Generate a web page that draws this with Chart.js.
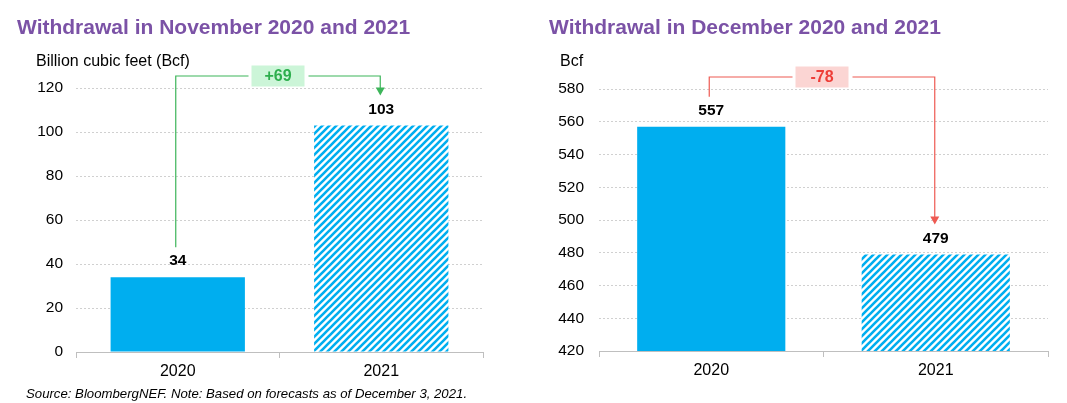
<!DOCTYPE html>
<html lang="en">
<head>
<meta charset="UTF-8">
<title>Withdrawal</title>
<script src="https://cdn.jsdelivr.net/npm/chart.js@4.4.0/dist/chart.umd.min.js"></script>
<style>
    body { margin: 0; background: #fff; font-family: "Liberation Sans", Arial, sans-serif; }
    #wrap { position: relative; width: 1067px; height: 403px; overflow: hidden; }
    canvas { position: absolute; top: 0; }
    .txt { position: absolute; line-height: 1; white-space: nowrap; z-index: 2; }
    .title { font-size: 21px; font-weight: bold; color: #7B52A6; top: 16px; }
    .unit { font-size: 16px; color: #000; top: 53px; }
</style>
</head>
<body>
<div id="wrap">
    <div class="txt title" style="left:17px">Withdrawal in November 2020 and 2021</div>
    <div class="txt title" style="left:549px">Withdrawal in December 2020 and 2021</div>
    <div class="txt unit" style="left:36px">Billion cubic feet (Bcf)</div>
    <div class="txt unit" style="left:560px">Bcf</div>
    <div class="txt" style="left:26px;top:387px;font-size:13.2px;font-style:italic">Source: BloombergNEF. Note: Based on forecasts as of December 3, 2021.</div>
    <canvas id="nov" width="533" height="403" style="left:0"></canvas>
    <canvas id="dec" width="534" height="403" style="left:533px"></canvas>
</div>

<script>
    // data
    const years = ['2020', '2021'];
    const novValues = [34, 103];
    const decValues = [557, 479];
    const novDelta = '+69';
    const decDelta = '-78';
    const novTicks = { min: 0, max: 120, step: 20 };
    const decTicks = { min: 420, max: 580, step: 20 };

    const blue = '#00AEEF';
    const font = '"Liberation Sans", Arial, sans-serif';

    function hatch() {
        const c = document.createElement('canvas');
        c.width = 7; c.height = 7;
        const g = c.getContext('2d');
        g.fillStyle = '#fff';
        g.fillRect(0, 0, 7, 7);
        g.strokeStyle = blue;
        g.lineWidth = 2.6;
        g.beginPath();
        g.moveTo(-1, 8); g.lineTo(8, -1);
        g.moveTo(-1, 1); g.lineTo(1, -1);
        g.moveTo(6, 8); g.lineTo(8, 6);
        g.stroke();
        return g.createPattern(c, 'repeat');
    }

    // bar value labels + the delta connector
    const extras = {
        id: 'extras',
        afterDatasetsDraw(chart, args, opts) {
            const ctx = chart.ctx;
            const bars = chart.getDatasetMeta(0).data;
            const vals = chart.data.datasets[0].data;
            ctx.save();
            ctx.fillStyle = '#000';
            ctx.font = 'bold 15.5px ' + font;
            ctx.textAlign = 'center';
            ctx.textBaseline = 'middle';
            bars.forEach((b, i) => ctx.fillText(vals[i], b.x, b.y - 16));

            const x0 = bars[0].x - 2, x1 = bars[1].x - 1;
            const yTop = chart.chartArea.top - 12;
            const yStart = bars[0].y - 30;
            const yTip = bars[1].y - 30;
            const mid = (x0 + x1) / 2;
            const bw = 53, bh = 21;

            ctx.strokeStyle = opts.line;
            ctx.lineWidth = 1.2;
            ctx.beginPath();
            ctx.moveTo(x0, yStart);
            ctx.lineTo(x0, yTop);
            ctx.lineTo(mid - bw / 2 - 3, yTop);
            ctx.moveTo(mid + bw / 2 + 4, yTop);
            ctx.lineTo(x1, yTop);
            ctx.lineTo(x1, yTip - 7);
            ctx.stroke();
            ctx.fillStyle = opts.line;
            ctx.beginPath();
            ctx.moveTo(x1 - 4.5, yTip - 8);
            ctx.lineTo(x1 + 4.5, yTip - 8);
            ctx.lineTo(x1, yTip);
            ctx.closePath();
            ctx.fill();

            ctx.fillStyle = opts.box;
            ctx.fillRect(mid - bw / 2, yTop - bh / 2, bw, bh);
            ctx.fillStyle = opts.text;
            ctx.font = 'bold 16px ' + font;
            ctx.fillText(opts.label, mid, yTop + 1);
            ctx.restore();
        }
    };

    function makeChart(id, values, ticks, yWidth, pad, delta) {
        return new Chart(document.getElementById(id), {
            type: 'bar',
            data: {
                labels: years,
                datasets: [{
                    data: values,
                    backgroundColor: [blue, hatch()],
                    borderWidth: 0,
                    barPercentage: 0.66,
                    categoryPercentage: 1
                }]
            },
            options: {
                responsive: false,
                animation: false,
                layout: { padding: pad },
                plugins: {
                    legend: { display: false },
                    tooltip: { enabled: false },
                    extras: delta
                },
                scales: {
                    x: {
                        grid: { offset: true, drawOnChartArea: false, drawTicks: true, tickLength: 6, color: '#bfbfbf' },
                        border: { display: true, color: '#bfbfbf', width: 1 },
                        ticks: { color: '#000', font: { family: font, size: 16 }, padding: 4 },
                        afterFit(s) { s.height = 30; }
                    },
                    y: {
                        min: ticks.min,
                        max: ticks.max,
                        grid: { drawTicks: false, color: '#d0d0d0', lineWidth: 1 },
                        border: { display: false, dash: [2, 2] },
                        ticks: { stepSize: ticks.step, color: '#000', font: { family: font, size: 15.5 }, padding: yWidth.pad },
                        afterFit(s) { s.width = yWidth.w; }
                    }
                }
            },
            plugins: [extras]
        });
    }

    makeChart('nov', novValues, novTicks, { w: 76, pad: 13 },
        { left: 0, right: 50, top: 88, bottom: 21 },
        { label: novDelta, line: '#3DB55A', box: '#CCF5D8', text: '#2DAE4D' });

    makeChart('dec', decValues, decTicks, { w: 66, pad: 15 },
        { left: 0, right: 19, top: 89, bottom: 22 },
        { label: decDelta, line: '#EE5A52', box: '#FBD5D3', text: '#EE3E38' });
</script>
</body>
</html>
